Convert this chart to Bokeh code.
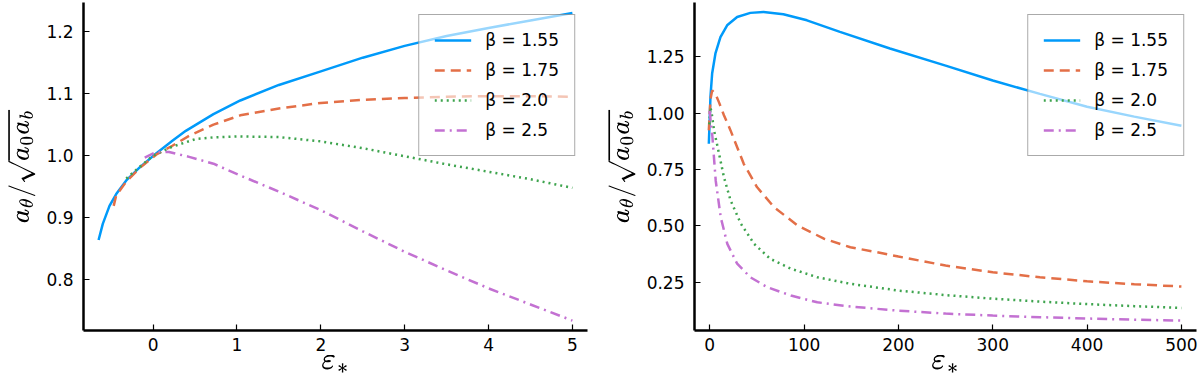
from bokeh.plotting import figure
from bokeh.layouts import row
from bokeh.models import FixedTicker, PrintfTickFormatter, Range1d, Legend, LegendItem
from bokeh.embed import file_html
from bokeh.resources import INLINE

# ---------------- data: left panel (small eps) ----------------
L_x_155 = [-0.65, -0.60, -0.52, -0.44, -0.32, -0.16, 0.04, 0.23, 0.39, 0.72, 1.04, 1.5, 2.0, 2.5, 3.0, 3.5, 4.0, 4.5, 5.0]
L_y_155 = [0.864, 0.890, 0.919, 0.938, 0.960, 0.981, 1.004, 1.024, 1.040, 1.067, 1.089, 1.114, 1.136, 1.158, 1.177, 1.193, 1.206, 1.218, 1.230]

L_x_175 = [-0.47, -0.44, -0.32, -0.16, 0.04, 0.23, 0.43, 0.72, 1.04, 1.5, 2.0, 2.5, 3.0, 3.5, 4.0, 4.5, 5.0]
L_y_175 = [0.919, 0.936, 0.958, 0.980, 1.002, 1.016, 1.032, 1.050, 1.065, 1.076, 1.085, 1.090, 1.093, 1.095, 1.096, 1.096, 1.095]

L_x_20 = [-0.32, -0.16, 0.0, 0.23, 0.51, 0.72, 1.0, 1.5, 2.0, 2.5, 3.0, 3.5, 4.0, 4.5, 5.0]
L_y_20 = [0.963, 0.982, 1.000, 1.0145, 1.027, 1.0295, 1.031, 1.030, 1.023, 1.012, 0.999, 0.986, 0.974, 0.962, 0.948]

L_x_25 = [-0.10, 0.04, 0.19, 0.43, 0.72, 1.04, 1.5, 2.0, 2.5, 3.0, 3.5, 4.0, 4.5, 5.0]
L_y_25 = [0.997, 1.006, 1.006, 0.998, 0.987, 0.968, 0.942, 0.912, 0.878, 0.845, 0.815, 0.786, 0.760, 0.734]

# ---------------- data: right panel (large eps) ----------------
R_x_155 = [-1.0, 0.7, 2.5, 6, 11.3, 18.4, 29, 43, 57, 78, 103, 138, 191, 250, 300, 350, 400, 450, 500]
R_y_155 = [0.864, 1.071, 1.175, 1.264, 1.337, 1.389, 1.426, 1.444, 1.448, 1.438, 1.411, 1.360, 1.286, 1.210, 1.144, 1.085, 1.028, 0.984, 0.944]

R_x_175 = [-1.0, 0.7, 2.5, 6, 10, 15, 22, 36, 50, 68, 93, 121, 149, 177, 200, 250, 300, 350, 400, 450, 500]
R_y_175 = [0.923, 1.060, 1.100, 1.085, 1.045, 0.990, 0.923, 0.775, 0.672, 0.583, 0.502, 0.443, 0.405, 0.383, 0.364, 0.324, 0.294, 0.272, 0.254, 0.241, 0.231]

R_x_20 = [-0.5, 0.7, 2.0, 4.5, 9.8, 15, 22, 33, 47, 64, 86, 114, 149, 200, 250, 300, 350, 400, 450, 500]
R_y_20 = [0.950, 1.025, 1.000, 0.923, 0.820, 0.716, 0.613, 0.509, 0.420, 0.354, 0.310, 0.272, 0.243, 0.213, 0.193, 0.177, 0.164, 0.153, 0.144, 0.136]

R_x_25 = [0.0, 1.0, 2.8, 6.3, 11.6, 18.6, 29, 43, 61, 86, 114, 149, 200, 250, 300, 350, 400, 450, 500]
R_y_25 = [1.010, 0.960, 0.894, 0.700, 0.538, 0.420, 0.332, 0.272, 0.228, 0.191, 0.161, 0.142, 0.124, 0.111, 0.102, 0.095, 0.089, 0.084, 0.080]

labels = ["β = 1.55", "β = 1.75", "β = 2.0", "β = 2.5"]
colors = ["#009AFA", "#E36F47", "#3EA44E", "#C371D2"]
dashes = ["solid", "10 6", "2 4", "10 5 2 5"]

L_xticks = [0, 1, 2, 3, 4, 5]
L_yticks = [0.8, 0.9, 1.0, 1.1, 1.2]
R_xticks = [0, 100, 200, 300, 400, 500]
R_yticks = [0.25, 0.50, 0.75, 1.00, 1.25]

FONT = "DejaVu Sans"


def make_panel(width, xs, ys, xr, yr, xticks, yticks, xfmt, yfmt, bl, br):
    p = figure(width=width, height=389, output_backend="svg", toolbar_location=None,
               x_range=Range1d(*xr), y_range=Range1d(*yr))
    p.min_border_left = bl
    p.min_border_right = br
    p.min_border_top = 2
    p.min_border_bottom = 59
    p.outline_line_color = None
    p.xgrid.visible = False
    p.ygrid.visible = False
    p.background_fill_color = "white"
    p.border_fill_color = "white"

    items = []
    for x, y, c, d, lab in zip(xs, ys, colors, dashes, labels):
        r = p.line(x, y, line_color=c, line_width=2.5, line_dash=d)
        items.append(LegendItem(label=lab, renderers=[r]))

    for ax, ticks, fmt in ((p.xaxis[0], xticks, xfmt), (p.yaxis[0], yticks, yfmt)):
        ax.ticker = FixedTicker(ticks=ticks)
        ax.formatter = PrintfTickFormatter(format=fmt)
        ax.minor_tick_line_color = None
        ax.major_tick_in = 6
        ax.major_tick_out = 0
        ax.major_tick_line_width = 1.2
        ax.major_tick_line_color = "black"
        ax.axis_line_width = 2.5
        ax.axis_line_color = "black"
        ax.major_label_text_font = FONT
        ax.major_label_text_font_size = "17px"
        ax.major_label_text_color = "black"
        ax.axis_label_text_color = "black"

    p.xaxis[0].major_label_standoff = 7
    p.yaxis[0].major_label_standoff = 10
    p.xaxis[0].axis_label = r"$$\varepsilon_*$$"
    p.xaxis[0].axis_label_text_font_size = "26px"
    p.xaxis[0].axis_label_standoff = 1
    p.yaxis[0].axis_label = r"$$a_\theta/\sqrt{a_0 a_b}$$"
    p.yaxis[0].axis_label_text_font_size = "22px"
    p.yaxis[0].axis_label_standoff = 8

    leg = Legend(items=items, location="top_right")
    leg.margin = 12
    leg.border_line_color = "#555555"
    leg.border_line_width = 1.5
    leg.background_fill_color = "white"
    leg.background_fill_alpha = 0.6
    leg.label_text_font = FONT
    leg.label_text_font_size = "17px"
    leg.label_text_color = "black"
    leg.glyph_width = 37
    leg.glyph_height = 20
    leg.label_height = 20
    leg.spacing = 10
    leg.padding = 15
    leg.label_standoff = 14
    p.add_layout(leg)
    return p


p1 = make_panel(600, [L_x_155, L_x_175, L_x_20, L_x_25], [L_y_155, L_y_175, L_y_20, L_y_25],
                (-0.83, 5.18), (0.718, 1.247), L_xticks, L_yticks, "%d", "%.1f", 83, 13)
p2 = make_panel(600, [R_x_155, R_x_175, R_x_20, R_x_25], [R_y_155, R_y_175, R_y_20, R_y_25],
                (-16.2, 516.0), (0.036, 1.49), R_xticks, R_yticks, "%d", "%.2f", 94, 4)

layout = row(p1, p2)
open("out.html", "w").write(file_html(layout, INLINE))
